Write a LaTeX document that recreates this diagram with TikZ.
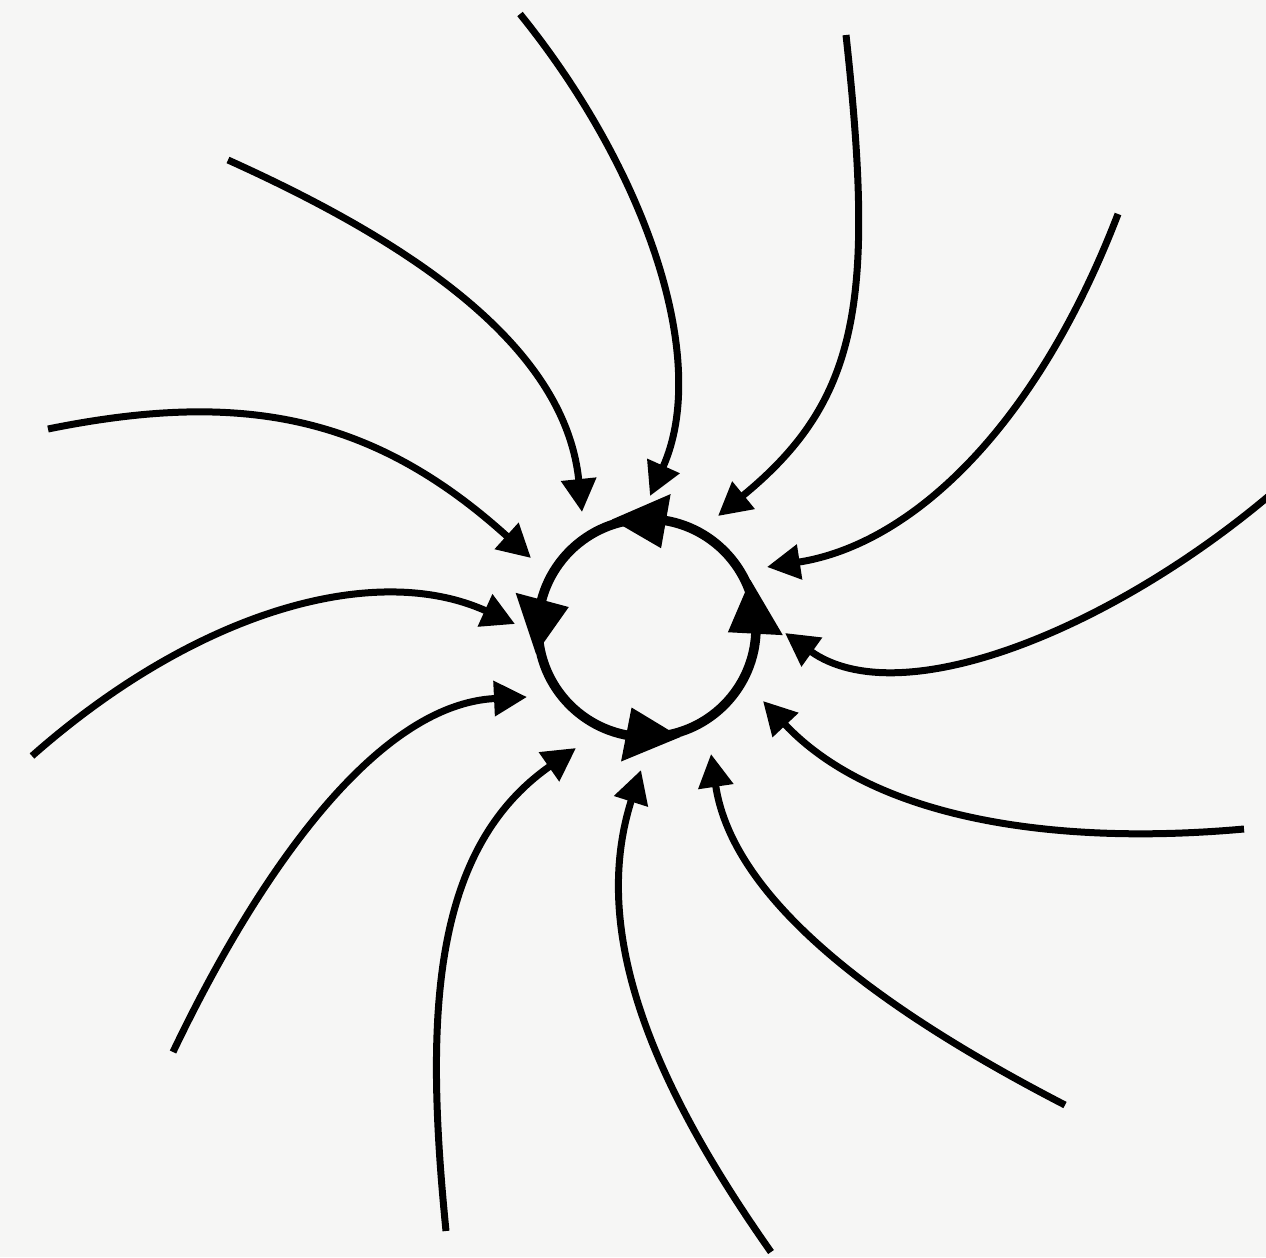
\documentclass[tikz,border=0pt]{standalone}
\usepackage{tikz}
\usetikzlibrary{arrows.meta}
\definecolor{paper}{RGB}{246,246,245}

\begin{document}
\begin{tikzpicture}[x=0.2mm,y=0.2mm,
  inflow/.style={line width=1.4mm,-{Triangle[length=6.6mm,width=6.8mm]}},
  orbit/.style={line width=1.9mm}]
  \fill[paper] (0,0) rectangle (1266,-1257);
  \useasboundingbox (0,0) rectangle (1266,-1257);
  % the closed orbit, run anticlockwise; the four heads are filled by hand
  \coordinate (cyc) at (647,-628);
  \draw[orbit] (cyc) circle[radius=21.8mm];
  \foreach \b in {25,108,193,287}
    \fill ([shift={(\b:114)}]cyc) -- ([shift={(\b-28:81)}]cyc) -- ([shift={(\b-28:136)}]cyc) -- cycle;
  % trajectories winding in from outside
  \draw[inflow] (520,-14) .. controls (646,-170) and (711,-360) .. (650,-496);
  \draw[inflow] (846,-35) .. controls (875,-300) and (860,-400) .. (718,-516);
  \draw[inflow] (1118,-214) .. controls (1035,-430) and (910,-545) .. (767,-567);
  \draw[inflow] (1270,-495) .. controls (1110,-630) and (900,-715) .. (785,-633);
  \draw[inflow] (1244,-829) .. controls (1044,-847) and (870,-815) .. (763,-701);
  \draw[inflow] (1065,-1105) .. controls (887,-1013) and (733,-903) .. (711,-754);
  \draw[inflow] (771,-1252) .. controls (650,-1080) and (590,-930) .. (641,-770);
  \draw[inflow] (446,-1231) .. controls (425,-1020) and (430,-850) .. (576,-748);
  \draw[inflow] (173,-1052) .. controls (259,-872) and (377,-704) .. (527,-697);
  \draw[inflow] (32,-756) .. controls (195,-612) and (374,-560) .. (515,-624);
  \draw[inflow] (48,-429) .. controls (240,-390) and (372,-414) .. (531,-558);
  \draw[inflow] (228,-160) .. controls (410,-242) and (565,-345) .. (582,-512);
\end{tikzpicture}
\end{document}
